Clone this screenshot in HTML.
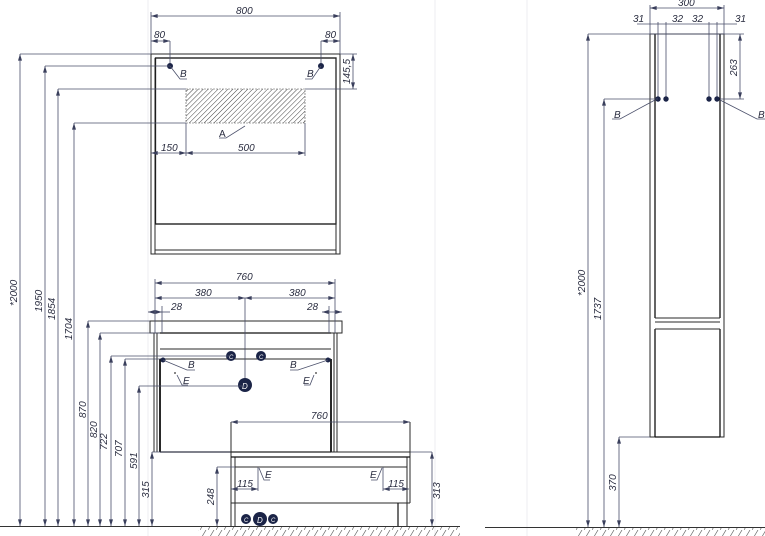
<!DOCTYPE html>
<html><head><meta charset="utf-8"><style>
html,body{margin:0;padding:0;background:#fff;}
svg{display:block;}
text{font-family:"Liberation Sans",sans-serif;font-style:italic;font-size:10px;fill:#2a2d40;}
.d{stroke:#4a4f6a;stroke-width:0.8;fill:none;}
.k{stroke:#2a2a2a;stroke-width:1;fill:none;}
.t{stroke:#111;stroke-width:1.8;fill:none;}
.g{stroke:#ececf0;stroke-width:1;}
</style></head><body>
<svg width="765" height="536" viewBox="0 0 765 536" xmlns="http://www.w3.org/2000/svg">
<defs>
<marker id="a" viewBox="0 0 10 6" refX="10" refY="3" markerWidth="7" markerHeight="4" orient="auto-start-reverse" markerUnits="userSpaceOnUse"><path d="M0,0L10,3L0,6z" fill="#3a3f5c"/></marker>
<pattern id="h" width="3.5" height="3.5" patternUnits="userSpaceOnUse" patternTransform="rotate(45)"><line x1="0" y1="0" x2="0" y2="3.5" stroke="#444" stroke-width="1"/></pattern>
<pattern id="fl" width="8" height="10" patternUnits="userSpaceOnUse"><line x1="0" y1="10" x2="6" y2="0" stroke="#666" stroke-width="0.7"/></pattern>
</defs>
<line class="g" x1="435" y1="0" x2="435" y2="536"/>
<line class="g" x1="527" y1="0" x2="527" y2="536"/>
<line class="g" x1="148" y1="0" x2="148" y2="536"/>

<!-- ===== MIRROR ===== -->
<rect class="k" x="151" y="54" width="189" height="200"/>
<rect class="t" x="155.5" y="58" width="180.5" height="166" style="stroke-width:1.3"/>
<line class="k" x1="155" y1="250" x2="336" y2="250"/>
<line class="k" x1="155" y1="58" x2="155" y2="254"/>
<line class="k" x1="336" y1="58" x2="336" y2="254"/>
<rect x="186" y="89" width="119" height="34" fill="url(#h)" stroke="#555" stroke-width="0.6" stroke-dasharray="2,1"/>
<line class="d" x1="151" y1="12" x2="151" y2="54"/><line class="d" x1="340" y1="12" x2="340" y2="54"/>
<line class="d" x1="151" y1="16" x2="340" y2="16" marker-start="url(#a)" marker-end="url(#a)"/>
<text x="236" y="14">800</text>
<line class="d" x1="170" y1="41" x2="170" y2="66"/><line class="d" x1="321" y1="41" x2="321" y2="66"/>
<line class="d" x1="151" y1="41" x2="170" y2="41" marker-start="url(#a)" marker-end="url(#a)"/>
<line class="d" x1="321" y1="41" x2="340" y2="41" marker-start="url(#a)" marker-end="url(#a)"/>
<text x="154" y="38">80</text><text x="325" y="38">80</text>
<circle cx="170" cy="66" r="3" fill="#1b2447"/><circle cx="321" cy="66" r="3" fill="#1b2447"/>
<path class="d" d="M170,66 L180,79 L187,79"/><text x="180" y="77">B</text>
<path class="d" d="M321,66 L312,79 L305,79"/><text x="307" y="77">B</text>
<line class="d" x1="340" y1="54" x2="357" y2="54"/><line class="d" x1="305" y1="89" x2="357" y2="89"/>
<line class="d" x1="353" y1="54" x2="353" y2="89" marker-start="url(#a)" marker-end="url(#a)"/>
<text transform="translate(350,84) rotate(-90)">145,5</text>
<line class="d" x1="186" y1="123" x2="186" y2="156"/><line class="d" x1="305" y1="123" x2="305" y2="156"/>
<line class="d" x1="151" y1="153" x2="186" y2="153" marker-start="url(#a)" marker-end="url(#a)"/>
<line class="d" x1="186" y1="153" x2="305" y2="153" marker-start="url(#a)" marker-end="url(#a)"/>
<text x="161" y="151">150</text><text x="238" y="151">500</text>
<path class="d" d="M245,126 L226,138 L219,138"/><text x="219" y="137" style="font-style:normal">A</text>
<line class="d" x1="20" y1="54" x2="151" y2="54"/>
<line class="d" x1="45" y1="66" x2="170" y2="66"/>
<line class="d" x1="58" y1="89" x2="186" y2="89"/>
<line class="d" x1="74" y1="123" x2="186" y2="123"/>
<line class="d" x1="20" y1="54" x2="20" y2="526" marker-start="url(#a)" marker-end="url(#a)"/>
<line class="d" x1="45" y1="66" x2="45" y2="526" marker-start="url(#a)" marker-end="url(#a)"/>
<line class="d" x1="58" y1="89" x2="58" y2="526" marker-start="url(#a)" marker-end="url(#a)"/>
<line class="d" x1="74" y1="123" x2="74" y2="526" marker-start="url(#a)" marker-end="url(#a)"/>
<text transform="translate(17,306) rotate(-90)">*2000</text>
<text transform="translate(42,312) rotate(-90)">1950</text>
<text transform="translate(55,320) rotate(-90)">1854</text>
<text transform="translate(72,340) rotate(-90)">1704</text>

<!-- ===== VANITY ===== -->
<rect class="k" x="150" y="321" width="192" height="12"/>
<line class="k" x1="154" y1="333" x2="154" y2="452"/><line class="k" x1="157" y1="333" x2="157" y2="452"/>
<line class="k" x1="334" y1="333" x2="334" y2="452"/><line class="k" x1="337" y1="333" x2="337" y2="452"/>
<line class="t" x1="160" y1="333" x2="331" y2="333" style="stroke-width:1.2"/>
<line class="t" x1="160" y1="359" x2="160" y2="452"/><line class="t" x1="331" y1="359" x2="331" y2="452"/>
<line class="k" x1="160" y1="349" x2="331" y2="349"/>
<line class="k" x1="160" y1="359" x2="331" y2="359"/>
<line class="t" x1="160" y1="452" x2="331" y2="452" style="stroke-width:1.2"/>
<line class="d" x1="155" y1="279" x2="155" y2="333"/><line class="d" x1="335" y1="279" x2="335" y2="333"/>
<line class="d" x1="155" y1="283" x2="335" y2="283" marker-start="url(#a)" marker-end="url(#a)"/>
<text x="236" y="280">760</text>
<line class="d" x1="155" y1="298" x2="245" y2="298" marker-start="url(#a)" marker-end="url(#a)"/>
<line class="d" x1="245" y1="298" x2="335" y2="298" marker-start="url(#a)" marker-end="url(#a)"/>
<text x="195" y="296">380</text><text x="289" y="296">380</text>
<line class="d" x1="245" y1="298" x2="245" y2="385"/>
<line class="d" x1="148" y1="312" x2="162" y2="312" marker-start="url(#a)" marker-end="url(#a)"/>
<line class="d" x1="162" y1="312" x2="170" y2="312"/>
<line class="d" x1="322" y1="312" x2="342" y2="312" marker-start="url(#a)" marker-end="url(#a)"/>
<line class="d" x1="162" y1="306" x2="162" y2="333"/><line class="d" x1="329" y1="306" x2="329" y2="333"/>
<text x="171" y="310">28</text><text x="307" y="310">28</text>
<circle cx="231" cy="356" r="5" fill="#1b2447"/><text x="229" y="359" style="fill:#fff;font-size:6px">C</text>
<circle cx="261" cy="356" r="5" fill="#1b2447"/><text x="259" y="359" style="fill:#fff;font-size:6px">C</text>
<circle cx="245" cy="385" r="7" fill="#1b2447"/><text x="242" y="389" style="fill:#fff;font-size:8px">D</text>
<circle cx="163" cy="360" r="2.5" fill="#1b2447"/><circle cx="328" cy="360" r="2.5" fill="#1b2447"/>
<path class="d" d="M163,360 L187,370 L195,370"/><text x="188" y="368">B</text>
<path class="d" d="M328,360 L298,370 L290,370"/><text x="290" y="368">B</text>
<circle cx="175" cy="373" r="0.9" fill="#333"/><path class="d" d="M177,375 L182,385 L188,385"/><text x="183" y="384">E</text>
<circle cx="316" cy="373" r="0.9" fill="#333"/><path class="d" d="M314,375 L310,385 L304,385"/><text x="303" y="384">E</text>
<line class="d" x1="88" y1="321" x2="150" y2="321"/>
<line class="d" x1="100" y1="333" x2="160" y2="333"/>
<line class="d" x1="111" y1="356" x2="231" y2="356"/>
<line class="d" x1="125" y1="359" x2="160" y2="359"/>
<line class="d" x1="139" y1="386" x2="245" y2="386"/>
<line class="d" x1="152" y1="452" x2="432" y2="452"/>
<line class="d" x1="88" y1="321" x2="88" y2="526" marker-start="url(#a)" marker-end="url(#a)"/>
<line class="d" x1="100" y1="333" x2="100" y2="526" marker-start="url(#a)" marker-end="url(#a)"/>
<line class="d" x1="111" y1="356" x2="111" y2="526" marker-start="url(#a)" marker-end="url(#a)"/>
<line class="d" x1="125" y1="359" x2="125" y2="526" marker-start="url(#a)" marker-end="url(#a)"/>
<line class="d" x1="139" y1="386" x2="139" y2="526" marker-start="url(#a)" marker-end="url(#a)"/>
<line class="d" x1="152" y1="452" x2="152" y2="526" marker-start="url(#a)" marker-end="url(#a)"/>
<text transform="translate(86,418) rotate(-90)">870</text>
<text transform="translate(97,438) rotate(-90)">820</text>
<text transform="translate(107,450) rotate(-90)">722</text>
<text transform="translate(122,457) rotate(-90)">707</text>
<text transform="translate(137,469) rotate(-90)">591</text>
<text transform="translate(149,498) rotate(-90)">315</text>

<!-- ===== BENCH ===== -->
<line class="k" x1="231" y1="422" x2="231" y2="526"/>
<line class="k" x1="235" y1="457" x2="235" y2="526"/>
<line class="k" x1="410" y1="422" x2="410" y2="503"/>
<line class="k" x1="407" y1="457" x2="407" y2="526"/>
<line class="k" x1="231" y1="452" x2="410" y2="452"/>
<line class="t" x1="231" y1="457" x2="410" y2="457" style="stroke-width:1.2"/>
<line class="k" x1="235" y1="467" x2="407" y2="467"/>
<line class="k" x1="231" y1="503" x2="410" y2="503"/>
<line class="t" x1="398" y1="503" x2="398" y2="526" style="stroke-width:1.2"/>
<line class="d" x1="231" y1="422" x2="410" y2="422" marker-start="url(#a)" marker-end="url(#a)"/>
<text x="311" y="419">760</text>
<line class="d" x1="217" y1="467" x2="235" y2="467"/>
<line class="d" x1="217" y1="467" x2="217" y2="526" marker-start="url(#a)" marker-end="url(#a)"/>
<text transform="translate(214,505) rotate(-90)">248</text>
<line class="d" x1="432" y1="452" x2="432" y2="526" marker-start="url(#a)" marker-end="url(#a)"/>
<text transform="translate(440,499) rotate(-90)">313</text>
<line class="d" x1="258" y1="467" x2="258" y2="491"/><line class="d" x1="383" y1="467" x2="383" y2="491"/>
<line class="d" x1="231" y1="489" x2="258" y2="489" marker-start="url(#a)" marker-end="url(#a)"/>
<line class="d" x1="383" y1="489" x2="409" y2="489" marker-start="url(#a)" marker-end="url(#a)"/>
<text x="237" y="487">115</text><text x="388" y="487">115</text>
<path class="d" d="M259,468 L264,480 L270,480"/><text x="265" y="478">E</text>
<path class="d" d="M382,468 L377,480 L371,480"/><text x="370" y="478">E</text>
<circle cx="246" cy="519" r="5" fill="#1b2447"/><text x="244" y="522" style="fill:#fff;font-size:6px">C</text>
<circle cx="273" cy="519" r="5" fill="#1b2447"/><text x="271" y="522" style="fill:#fff;font-size:6px">C</text>
<circle cx="260" cy="519" r="7" fill="#1b2447"/><text x="257" y="523" style="fill:#fff;font-size:8px">D</text>
<line x1="0" y1="526.5" x2="460" y2="526.5" stroke="#333" stroke-width="1"/>
<rect x="198" y="527" width="262" height="9" fill="url(#fl)"/>

<!-- ===== RIGHT TALL CABINET ===== -->
<rect class="k" x="650" y="34" width="74" height="403"/>
<line class="t" x1="655" y1="34" x2="655" y2="318" style="stroke-width:1.3"/>
<line class="t" x1="720" y1="34" x2="720" y2="318" style="stroke-width:1.3"/>
<line class="t" x1="655" y1="329" x2="655" y2="437" style="stroke-width:1.3"/>
<line class="t" x1="720" y1="329" x2="720" y2="437" style="stroke-width:1.3"/>
<line class="k" x1="655" y1="318" x2="720" y2="318"/>
<line class="k" x1="655" y1="322" x2="720" y2="322"/>
<line class="k" x1="655" y1="329" x2="720" y2="329"/>
<line class="t" x1="655" y1="437" x2="720" y2="437" style="stroke-width:1.3"/>
<line class="d" x1="650" y1="5" x2="650" y2="34"/><line class="d" x1="724" y1="5" x2="724" y2="34"/>
<line class="d" x1="650" y1="8" x2="724" y2="8" marker-start="url(#a)" marker-end="url(#a)"/>
<text x="678" y="6">300</text>
<line class="d" x1="637" y1="24" x2="737" y2="24"/>
<line class="d" x1="658" y1="22" x2="658" y2="99"/><line class="d" x1="666" y1="22" x2="666" y2="99"/>
<line class="d" x1="709" y1="22" x2="709" y2="99"/><line class="d" x1="717" y1="22" x2="717" y2="99"/>
<text x="633" y="22">31</text><text x="672" y="22">32</text><text x="692" y="22">32</text><text x="735" y="22">31</text>
<circle cx="658" cy="99" r="2.7" fill="#1b2447"/><circle cx="666" cy="99" r="2.7" fill="#1b2447"/>
<circle cx="709" cy="99" r="2.7" fill="#1b2447"/><circle cx="717" cy="99" r="2.7" fill="#1b2447"/>
<line class="d" x1="588" y1="34" x2="744" y2="34"/>
<line class="d" x1="720" y1="99" x2="744" y2="99"/>
<line class="d" x1="740" y1="34" x2="740" y2="99" marker-start="url(#a)" marker-end="url(#a)"/>
<text transform="translate(737,76) rotate(-90)">263</text>
<path class="d" d="M655,100 L620,119 L612,119"/><text x="614" y="118">B</text>
<path class="d" d="M720,100 L757,119 L765,119"/><text x="758" y="118">B</text>
<line class="d" x1="604" y1="99" x2="658" y2="99"/>
<line class="d" x1="619" y1="437" x2="650" y2="437"/>
<line class="d" x1="588" y1="34" x2="588" y2="527" marker-start="url(#a)" marker-end="url(#a)"/>
<line class="d" x1="604" y1="99" x2="604" y2="527" marker-start="url(#a)" marker-end="url(#a)"/>
<line class="d" x1="619" y1="437" x2="619" y2="527" marker-start="url(#a)" marker-end="url(#a)"/>
<text transform="translate(585,296) rotate(-90)">*2000</text>
<text transform="translate(601,320) rotate(-90)">1737</text>
<text transform="translate(616,491) rotate(-90)">370</text>
<line x1="485" y1="527.5" x2="765" y2="527.5" stroke="#333" stroke-width="1"/>
<rect x="575" y="528" width="190" height="8" fill="url(#fl)"/>
</svg>
</body></html>
